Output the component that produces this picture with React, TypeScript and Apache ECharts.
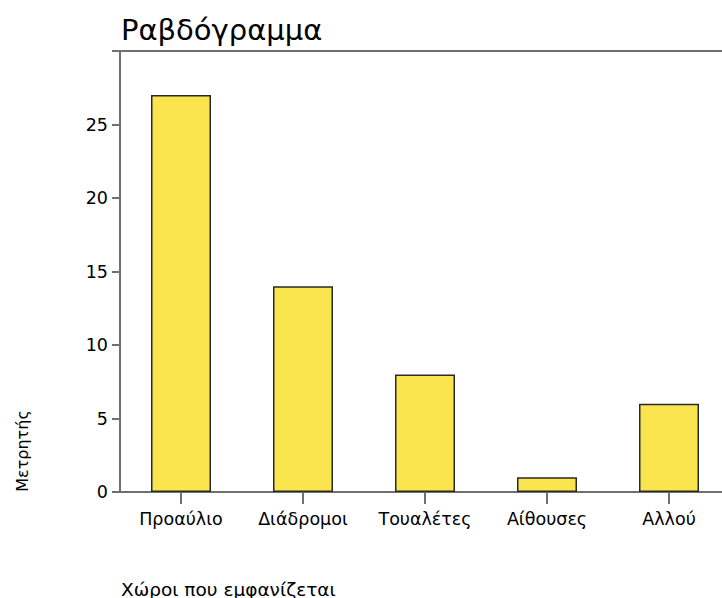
import React, { useEffect, useRef } from "react";
import * as echarts from "echarts";

const categories = ["Προαύλιο", "Διάδρομοι", "Τουαλέτες", "Αίθουσες", "Αλλού"];
const counts = [27, 14, 8, 1, 6];
const title = "Ραβδόγραμμα";
const yName = "Μετρητής";
const xName = "Χώροι που εμφανίζεται";

const FONT = "DejaVu Sans";

export default function App() {
  const ref = useRef<HTMLDivElement>(null);
  useEffect(() => {
    if (!ref.current) return;
    const chart = echarts.init(ref.current, undefined, { renderer: "svg" });
    chart.setOption({
      animation: false,
      backgroundColor: "#ffffff",
      title: {
        text: title,
        left: 116,
        top: 10,
        textStyle: { fontFamily: FONT, fontSize: 29, fontWeight: "normal", color: "#000" },
      },
      grid: {
        left: 120,
        top: 51,
        width: 610,
        height: 441,
        show: true,
        borderColor: "#707070",
        borderWidth: 2,
        backgroundColor: "transparent",
        outerBoundsMode: "none",
        containLabel: false,
      },
      xAxis: {
        type: "category",
        data: categories,
        axisLine: { lineStyle: { color: "#707070", width: 2 } },
        axisTick: { show: true, alignWithLabel: true, length: 12, lineStyle: { color: "#707070", width: 2 } },
        axisLabel: { fontFamily: FONT, fontSize: 17.5, color: "#000", margin: 18, interval: 0 },
      },
      yAxis: {
        type: "value",
        min: 0,
        max: 30,
        interval: 5,
        splitLine: { show: false },
        axisLine: { show: true, lineStyle: { color: "#707070", width: 2 } },
        axisTick: { show: true, length: 8, lineStyle: { color: "#707070", width: 2 } },
        axisLabel: {
          fontFamily: FONT,
          fontSize: 17.5,
          color: "#000",
          margin: 12,
          formatter: (v: number) => (v === 30 ? "" : String(v)),
        },
      },
      series: [
        {
          type: "bar",
          data: counts,
          barWidth: 60,
          itemStyle: { color: "#fbe54f", borderColor: "#2a2a2a", borderWidth: 1.5 },
        },
      ],
      graphic: [
        {
          type: "text",
          x: 22,
          y: 451,
          rotation: Math.PI / 2,
          style: {
            text: yName,
            fontFamily: FONT,
            fontSize: 16,
            fill: "#000",
            align: "center",
            verticalAlign: "middle",
          },
        },
        {
          type: "text",
          x: 121,
          y: 589,
          style: {
            text: xName,
            fontFamily: FONT,
            fontSize: 18.5,
            fill: "#000",
            align: "left",
            verticalAlign: "middle",
          },
        },
      ],
    });
    return () => chart.dispose();
  }, []);
  return <div ref={ref} style={{ width: 722, height: 598, position: "absolute", left: 0, top: 0 }} />;
}
